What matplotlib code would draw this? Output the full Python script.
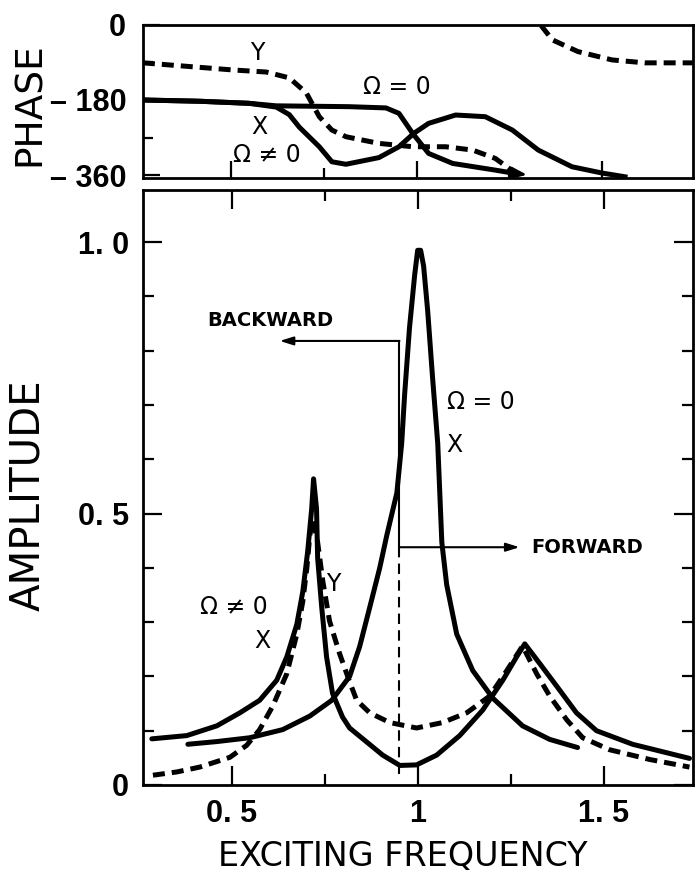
import matplotlib.pyplot as plt
import numpy as np

# ---- phase panel data (exciting frequency, phase in deg) ----
ph_y1_x = [0.261, 0.503, 0.594, 0.656, 0.702, 0.737, 0.771, 0.809, 0.898, 0.989, 1.078, 1.151, 1.212, 1.274]
ph_y1_p = [-91, -108, -113, -127, -163, -220, -252, -268, -284, -292, -292, -300, -320, -360]
ph_y2_x = [1.336, 1.366, 1.435, 1.527, 1.616, 1.745]
ph_y2_p = [-2, -36, -64, -84, -91, -91]

ph_xn_x = [0.261, 0.414, 0.548, 0.621, 0.656, 0.683, 0.737, 0.771, 0.809, 0.898, 0.952, 0.992,
           1.032, 1.105, 1.185, 1.258, 1.328, 1.419, 1.5, 1.562]
ph_xn_p = [-180, -183, -188, -197, -215, -245, -292, -328, -334, -318, -292, -260,
           -236, -216, -220, -252, -300, -340, -355, -364]

ph_x0_x = [0.261, 0.414, 0.548, 0.621, 0.817, 0.917, 0.952, 0.989, 1.032, 1.097, 1.212, 1.258]
ph_x0_p = [-180, -183, -188, -194, -196, -199, -212, -260, -308, -332, -348, -355]
ph_arrow_tip = (1.305, -360)

# ---- amplitude panel data ----
amp_xn_x = [0.285, 0.379, 0.46, 0.522, 0.575, 0.621, 0.648, 0.675, 0.691, 0.704, 0.715, 0.72,
            0.728, 0.731, 0.742, 0.755, 0.771, 0.798, 0.817, 0.906, 0.952, 0.997, 1.051, 1.113,
            1.175, 1.229, 1.266, 1.288, 1.328, 1.374, 1.427, 1.481, 1.578, 1.731]
amp_xn_a = [0.085, 0.091, 0.109, 0.133, 0.156, 0.193, 0.236, 0.296, 0.356, 0.429, 0.509, 0.564,
            0.509, 0.418, 0.327, 0.236, 0.169, 0.125, 0.105, 0.055, 0.036, 0.037, 0.055, 0.091,
            0.138, 0.193, 0.236, 0.26, 0.224, 0.182, 0.133, 0.10, 0.075, 0.049]

amp_yn_x = [0.288, 0.352, 0.414, 0.495, 0.54, 0.575, 0.61, 0.648, 0.675, 0.691, 0.702, 0.71, 0.718,
            0.731, 0.745, 0.763, 0.79, 0.817, 0.836, 0.871, 0.925, 0.997, 1.067, 1.132, 1.194,
            1.24, 1.282, 1.32, 1.355, 1.401, 1.444, 1.516, 1.624, 1.731]
amp_yn_a = [0.018, 0.024, 0.033, 0.051, 0.073, 0.102, 0.145, 0.205, 0.278, 0.338, 0.40, 0.46, 0.49,
            0.447, 0.375, 0.302, 0.242, 0.19, 0.156, 0.133, 0.115, 0.105, 0.115, 0.133, 0.164,
            0.211, 0.256, 0.205, 0.164, 0.12, 0.087, 0.065, 0.047, 0.033]

amp_x0_x = [0.382, 0.46, 0.548, 0.637, 0.71, 0.769, 0.817, 0.844, 0.871, 0.898, 0.917, 0.944,
            0.957, 0.965, 0.978, 0.992, 1.0, 1.008, 1.016, 1.027, 1.04, 1.054, 1.065, 1.078, 1.105,
            1.148, 1.202, 1.282, 1.355, 1.43]
amp_x0_a = [0.075, 0.08, 0.087, 0.102, 0.127, 0.156, 0.2, 0.255, 0.327, 0.40, 0.46, 0.538,
            0.629, 0.72, 0.842, 0.94, 0.985, 0.985, 0.956, 0.873, 0.751, 0.629, 0.447, 0.369, 0.278,
            0.211, 0.16, 0.109, 0.084, 0.069]

split_x = 0.951
backward_y = 0.818
forward_y = 0.438
backward_tip = 0.629
forward_tip = 1.274

num_font = ['Liberation Sans', 'DejaVu Sans']
lw = 3.6
dash = (2.4, 1.4)

fig = plt.figure(figsize=(6.97, 8.88), dpi=100)
ax_ph = fig.add_axes([0.205, 0.7995, 0.789, 0.1725])
ax = fig.add_axes([0.205, 0.116, 0.789, 0.670])

# phase panel
ax_ph.plot(ph_y1_x, ph_y1_p, color='k', lw=lw, ls=(0, dash))
ax_ph.plot(ph_y2_x, ph_y2_p, color='k', lw=lw, ls=(0, dash))
ax_ph.plot(ph_xn_x, ph_xn_p, color='k', lw=lw, solid_joinstyle='round')
ax_ph.plot(ph_x0_x, ph_x0_p, color='k', lw=lw, solid_joinstyle='round')
ax_ph.annotate('', xy=ph_arrow_tip, xytext=(ph_x0_x[-1], ph_x0_p[-1]),
               arrowprops=dict(arrowstyle='-|>,head_length=0.9,head_width=0.35', color='k', lw=2))
ax_ph.text(0.57, -68, 'Y', fontsize=17, ha='center', va='center')
ax_ph.text(0.575, -245, 'X', fontsize=17, ha='center', va='center')
ax_ph.text(0.503, -312, 'Ω ≠ 0', fontsize=17, ha='left', va='center')
ax_ph.text(0.855, -149, 'Ω = 0', fontsize=17, ha='left', va='center')

ax_ph.set_xlim(0.261, 1.745)
ax_ph.set_ylim(-367, 0)
ax_ph.set_yticks([0, -180, -360], ['0', '– 180', '– 360'], family=num_font, fontsize=22,
                 fontweight='bold')
ax_ph.set_yticks([-90, -270], minor=True)
ax_ph.set_xticks([0.5, 1.0, 1.5], [])
ax_ph.set_xticks([0.75, 1.25], minor=True)
ax_ph.tick_params(which='both', direction='in', top=False, right=False, width=1.6, pad=12)
ax_ph.tick_params(which='major', length=12)
ax_ph.tick_params(which='minor', length=7)
ax_ph.set_ylabel('PHASE', fontsize=27, va='center')
ax_ph.yaxis.set_label_coords(-0.205, 0.48)

# amplitude panel
ax.plot(amp_xn_x, amp_xn_a, color='k', lw=lw, solid_joinstyle='round', solid_capstyle='round')
ax.plot(amp_yn_x, amp_yn_a, color='k', lw=lw, ls=(0, dash))
ax.plot(amp_x0_x, amp_x0_a, color='k', lw=lw, solid_joinstyle='round', solid_capstyle='round')

ax.plot([split_x, split_x], [forward_y, backward_y], color='k', lw=1.5)
ax.plot([split_x, split_x], [0.02, forward_y], color='k', lw=1.5, ls=(0, (5, 3)))
ax.annotate('', xy=(backward_tip, backward_y), xytext=(split_x, backward_y),
            arrowprops=dict(arrowstyle='-|>,head_length=0.8,head_width=0.25', color='k', lw=1.5,
                            shrinkA=0, shrinkB=0))
ax.annotate('', xy=(forward_tip, forward_y), xytext=(split_x, forward_y),
            arrowprops=dict(arrowstyle='-|>,head_length=0.8,head_width=0.25', color='k', lw=1.5,
                            shrinkA=0, shrinkB=0))
ax.text(0.433, 0.856, 'BACKWARD', fontsize=14, fontweight='bold', ha='left', va='center')
ax.text(1.306, 0.438, 'FORWARD', fontsize=14, fontweight='bold', ha='left', va='center')
ax.text(1.078, 0.705, 'Ω = 0', fontsize=17, ha='left', va='center')
ax.text(1.099, 0.627, 'X', fontsize=17, ha='center', va='center')
ax.text(0.414, 0.327, 'Ω ≠ 0', fontsize=17, ha='left', va='center')
ax.text(0.583, 0.265, 'X', fontsize=17, ha='center', va='center')
ax.text(0.773, 0.371, 'Y', fontsize=17, ha='center', va='center')

ax.set_xlim(0.261, 1.74)
ax.set_ylim(0.0145, 1.096)
ax.set_xticks([0.5, 1.0, 1.5], ['0. 5', '1', '1. 5'], family=num_font, fontsize=22,
              fontweight='bold')
ax.set_xticks([0.75, 1.25], minor=True)
ax.set_yticks([0, 0.5, 1.0], ['0', '0. 5', '1. 0'], family=num_font, fontsize=22,
              fontweight='bold')
ax.set_yticks([0.1, 0.2, 0.3, 0.4, 0.6, 0.7, 0.8, 0.9], minor=True)
ax.tick_params(which='both', direction='in', top=True, right=True, width=1.6)
ax.tick_params(which='major', length=14, pad=10)
ax.tick_params(which='minor', length=8)
ax.set_ylabel('AMPLITUDE', fontsize=29, va='center')
ax.yaxis.set_label_coords(-0.209, 0.487)
ax.set_xlabel('EXCITING FREQUENCY', fontsize=24, va='center')
ax.xaxis.set_label_coords(0.473, -0.121)

for a in (ax, ax_ph):
    for s in a.spines.values():
        s.set_linewidth(2)

fig.savefig('out.png', dpi=100)
